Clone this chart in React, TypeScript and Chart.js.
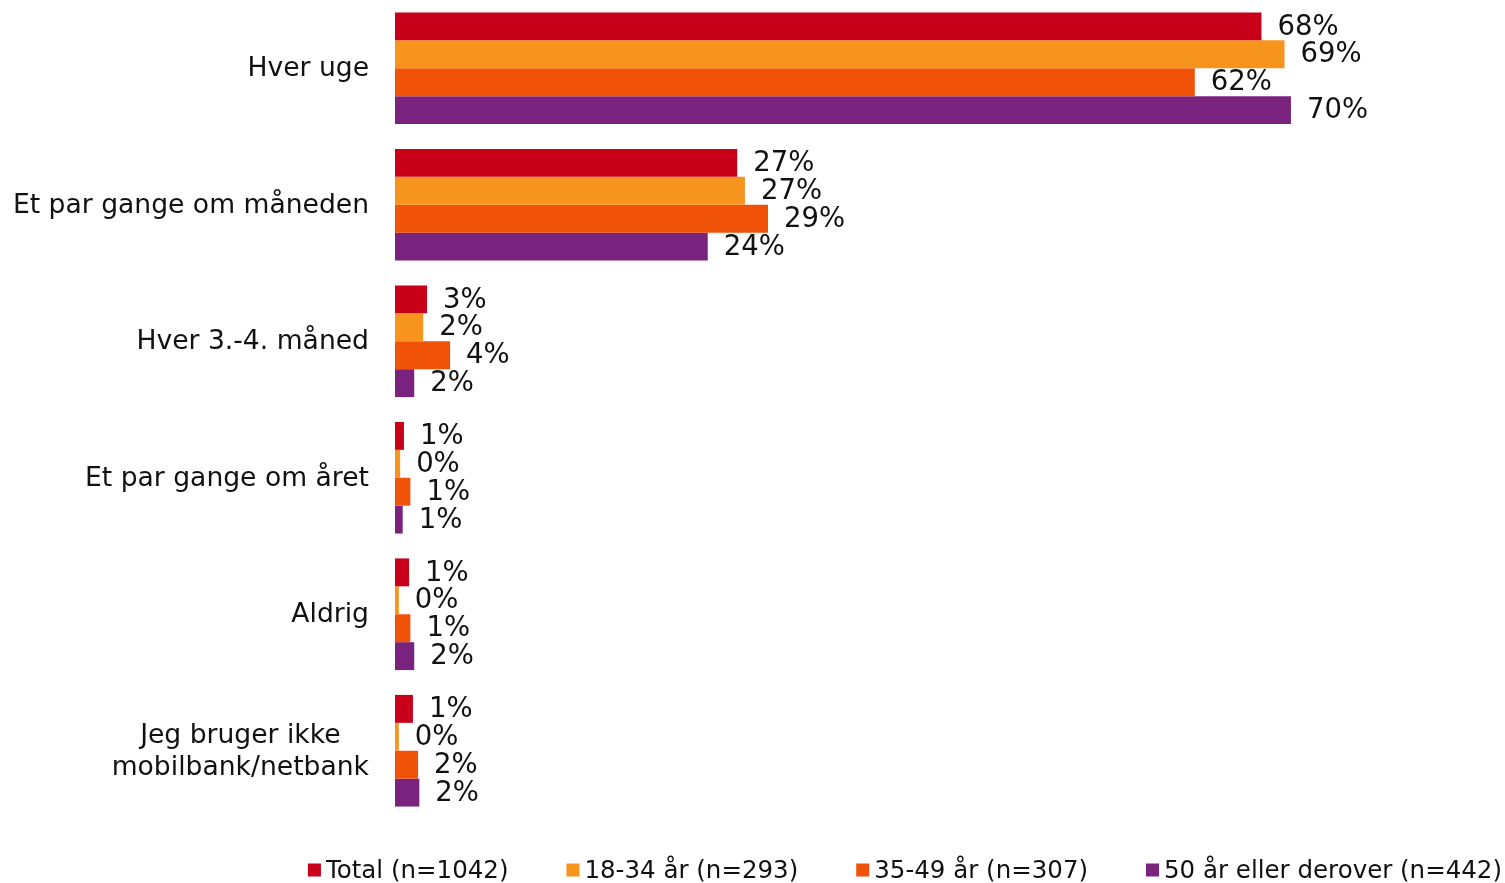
import { useEffect, useRef } from "react";
import { Chart, registerables } from "chart.js";

Chart.register(...registerables);

const categories: string[][] = [
  ["Hver uge"],
  ["Et par gange om måneden"],
  ["Hver 3.-4. måned"],
  ["Et par gange om året"],
  ["Aldrig"],
  ["Jeg bruger ikke", "mobilbank/netbank"],
];
const seriesNames = ["Total (n=1042)", "18-34 år (n=293)", "35-49 år (n=307)", "50 år eller derover (n=442)"];
const totalValues = [67.6, 26.7, 2.5, 0.7, 1.1, 1.4];
const age18to34Values = [69.4, 27.3, 2.2, 0.4, 0.3, 0.3];
const age35to49Values = [62.4, 29.1, 4.3, 1.2, 1.2, 1.8];
const age50plusValues = [69.9, 24.4, 1.5, 0.6, 1.5, 1.9];
const seriesColors = ["#C8001A", "#F7941E", "#F05208", "#7A237E"];

const FONT = "'DejaVu Sans', Verdana, sans-serif";

export default function App() {
  const canvasRef = useRef<HTMLCanvasElement | null>(null);

  useEffect(() => {
    const canvas = canvasRef.current;
    if (!canvas) return;
    const allValues = [totalValues, age18to34Values, age35to49Values, age50plusValues];

    const customDraw = {
      id: "customDraw",
      afterDatasetsDraw(chart: any) {
        const ctx = chart.ctx;
        ctx.save();
        // data labels
        ctx.font = `27.5px ${FONT}`;
        ctx.fillStyle = "#111111";
        ctx.textAlign = "left";
        ctx.textBaseline = "middle";
        chart.data.datasets.forEach((ds: any, di: number) => {
          const meta = chart.getDatasetMeta(di);
          meta.data.forEach((bar: any, i: number) => {
            const v = ds.data[i] as number;
            ctx.fillText(`${Math.round(v)}%`, bar.x + 16, bar.y + 1);
          });
        });
        // category labels
        const yScale = chart.scales.y;
        ctx.font = `26.6px ${FONT}`;
        ctx.textAlign = "center";
        const rightEdge = 369;
        const lineH = 32;
        categories.forEach((lines, i) => {
          const cy = yScale.getPixelForValue(i) + 1;
          const maxW = Math.max(...lines.map((l) => ctx.measureText(l).width));
          const cx = rightEdge - maxW / 2;
          lines.forEach((l, li) => {
            const y = cy + (li - (lines.length - 1) / 2) * lineH;
            ctx.fillText(l, cx, y);
          });
        });
        // legend
        ctx.font = `24.5px ${FONT}`;
        ctx.textAlign = "left";
        const box = 13;
        const gap = 5;
        const spacing = 58;
        const widths = seriesNames.map((n) => box + gap + ctx.measureText(n).width);
        const total = widths.reduce((a, b) => a + b, 0) + spacing * (seriesNames.length - 1);
        let x = 1502 - total;
        const ly = 870;
        seriesNames.forEach((n, i) => {
          ctx.fillStyle = seriesColors[i];
          ctx.fillRect(x, ly - box / 2, box, box);
          ctx.fillStyle = "#111111";
          ctx.fillText(n, x + box + gap, ly + 2);
          x += widths[i] + spacing;
        });
        ctx.restore();
      },
    };

    const chart = new Chart(canvas, {
      type: "bar",
      data: {
        labels: categories,
        datasets: seriesNames.map((name, i) => ({
          label: name,
          data: allValues[i],
          backgroundColor: seriesColors[i],
          borderWidth: 0,
          barPercentage: 1,
          categoryPercentage: 0.818,
        })),
      },
      options: {
        indexAxis: "y",
        animation: false,
        responsive: true,
        maintainAspectRatio: false,
        layout: { padding: { top: 0, bottom: 64, left: 0, right: 0 } },
        plugins: {
          legend: { display: false },
          tooltip: { enabled: false },
        },
        scales: {
          x: { display: false, min: 0, max: 86.6 },
          y: {
            grid: { display: false },
            border: { display: false },
            ticks: { display: false },
            afterFit: (s: any) => {
              s.width = 395;
            },
          },
        },
      },
      plugins: [customDraw],
    } as any);

    return () => chart.destroy();
  }, []);

  return (
    <div style={{ position: "fixed", left: 0, top: 0, width: 1505, height: 883, background: "#fff" }}>
      <canvas ref={canvasRef} />
    </div>
  );
}
